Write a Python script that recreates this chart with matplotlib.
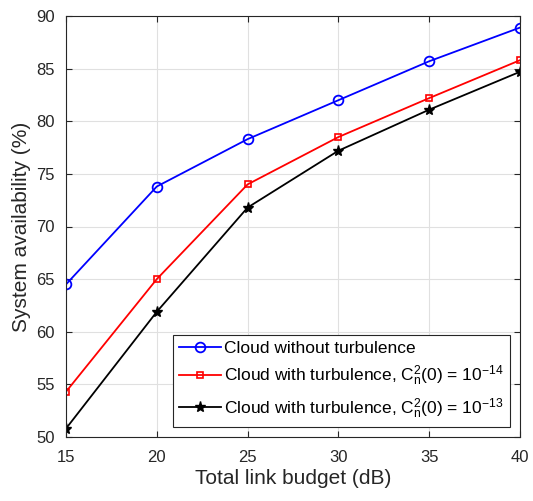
import matplotlib
matplotlib.use("Agg")
import matplotlib.pyplot as plt

plt.rcParams['font.family'] = ['Liberation Sans', 'DejaVu Sans']
plt.rcParams['mathtext.fontset'] = 'custom'
plt.rcParams['mathtext.rm'] = 'Liberation Sans'
plt.rcParams['mathtext.it'] = 'Liberation Sans'

budget = [15, 20, 25, 30, 35, 40]
no_turb = [64.5, 73.8, 78.3, 82.0, 85.7, 88.9]
turb_14 = [54.3, 65.0, 74.0, 78.5, 82.2, 85.8]
turb_13 = [50.8, 61.9, 71.8, 77.2, 81.1, 84.7]

fig = plt.figure(figsize=(5.33, 5.01), dpi=100)
ax = fig.add_axes([66 / 533, 64 / 501, 454 / 533, 421 / 501])

ax.plot(budget, no_turb, '-o', color='#0000ff', mfc='none', ms=7, mew=1.3, lw=1.3,
        label='Cloud without turbulence')
ax.plot(budget, turb_14, '-s', color='#ff0000', mfc='none', ms=5, mew=1.2, lw=1.3,
        label=r'Cloud with turbulence, $\mathrm{C}_\mathrm{n}^\mathrm{2}\mathrm{(0)}$ = $\mathrm{10^{-14}}$')
ax.plot(budget, turb_13, '-*', color='#000000', ms=8, lw=1.3,
        label=r'Cloud with turbulence, $\mathrm{C}_\mathrm{n}^\mathrm{2}\mathrm{(0)}$ = $\mathrm{10^{-13}}$')

ax.set_xlim(15, 40)
ax.set_ylim(50, 90)
ax.set_xticks(budget)
ax.set_yticks(range(50, 91, 5))
ax.tick_params(direction='in', labelsize=12, colors='#262626', length=4, top=True, right=True)
ax.tick_params(axis='x', pad=9)
ax.tick_params(axis='y', pad=8)
ax.grid(True, color='#e0e0e0', lw=0.8)
for s in ax.spines.values():
    s.set_color('#262626')
    s.set_linewidth(0.8)

ax.set_xlabel('Total link budget (dB)', fontsize=15, color='#262626', labelpad=3)
ax.set_ylabel('System availability (%)', fontsize=15, color='#262626', labelpad=4)

leg = ax.legend(loc='lower right', fontsize=12.5, fancybox=False, framealpha=1,
                edgecolor='#262626', handlelength=2.4, handletextpad=0.2,
                borderaxespad=0.6, labelspacing=0.45, borderpad=0.35)
leg.get_frame().set_linewidth(0.8)

fig.savefig('out.png', dpi=100)
